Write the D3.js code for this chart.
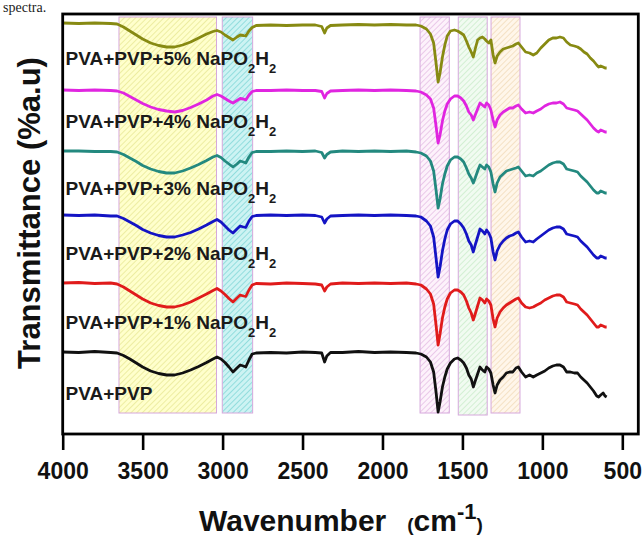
<!DOCTYPE html>
<html>
<head>
<meta charset="utf-8">
<script src="https://cdn.jsdelivr.net/npm/d3@7"></script>
<style>
  html, body { margin: 0; padding: 0; background: #fff; }
  #chart { width: 644px; height: 537px; }
  text { font-family: "Liberation Sans", Arial, sans-serif; }
</style>
</head>
<body>
<div id="chart"></div>
<script>
// wavenumber grid (cm-1), shared by all spectra
var wavenumbers = [
  4000, 3900, 3800, 3700, 3660, 3620, 3580, 3540, 3500, 3450, 3400, 3350, 3300, 3250, 3200, 3150, 3100, 3060, 3035,
  3010, 2985, 2960, 2935, 2910, 2890, 2870, 2855, 2835, 2815, 2790,
  2700, 2600, 2500, 2420, 2380, 2362, 2348, 2325, 2250, 2150, 2050, 1950, 1850, 1790,
  1760, 1725, 1700, 1680, 1665, 1652, 1640, 1625, 1610, 1595, 1575, 1550, 1530,
  1510, 1492, 1475, 1460, 1445, 1432, 1420, 1405, 1390, 1375, 1360, 1349, 1335, 1322, 1308, 1296, 1283, 1265, 1245, 1225, 1205, 1185, 1165, 1150,
  1130, 1105, 1080, 1057, 1035, 1010, 985, 960, 935, 912, 890, 868, 848, 825, 800, 780, 760, 740, 720, 700, 680, 660, 648, 635, 620, 608, 598
];

var seriesNames = ['PVA+PVP', '1%', '2%', '3%', '4%', '5%'];
// flat-level transmittance of each stacked spectrum (a.u.)
var baselines = [8.2, 15.1, 21.9, 28.3, 34.4, 41.1];

// absorption drop below the baseline
var dropPure = [
  0, 0.05, -0.05, 0.05, 0.1, 0.35, 0.7, 1.1, 1.5, 1.9, 2.15, 2.3, 2.3, 2.1, 1.8, 1.45, 1.05, 0.7, 0.5,
  0.7, 1.05, 1.5, 2.0, 1.6, 1.3, 1.4, 1.5, 0.8, 0.2, 0.1,
  0.05, 0.1, 0, 0.05, 0.1, 1.0, 0.4, 0.05, 0.05, -0.05, 0.05, 0, 0.05, 0.1,
  0.2, 0.5, 1.0, 2.0, 4.0, 6.0, 5.0, 3.5, 2.5, 1.7, 1.1, 0.7, 0.6,
  0.8, 1.1, 1.6, 2.3, 2.7, 3.5, 2.9, 2.2, 1.5, 1.8, 2.0, 1.5, 1.7, 2.1, 3.3, 4.1, 3.3, 2.8, 2.5, 2.1, 2.0, 2.0, 1.6, 1.5,
  2.0, 2.5, 2.3, 2.5, 2.3, 2.1, 1.9, 1.6, 1.4, 1.3, 1.3, 1.5, 2.0, 2.0, 2.1, 2.1, 2.5, 2.8, 3.1, 3.5, 3.9, 4.4, 4.5, 4.3, 4.1, 4.4, 4.5
];
var drop1 = [
  0, -0.05, 0.05, 0, 0.1, 0.4, 0.8, 1.2, 1.6, 2.0, 2.25, 2.4, 2.4, 2.2, 1.9, 1.5, 1.1, 0.75, 0.55,
  0.8, 1.15, 1.55, 1.9, 1.5, 1.2, 1.3, 1.35, 0.7, 0.2, 0.05,
  0.1, 0, 0.05, 0.1, 0.2, 0.8, 0.4, 0.1, 0, 0.05, 0, 0.05, 0, 0.1,
  0.2, 0.6, 1.1, 2.1, 4.2, 6.2, 5.1, 3.5, 2.4, 1.6, 1.0, 0.7, 0.7,
  0.9, 1.2, 1.8, 2.5, 3.0, 3.7, 3.1, 2.3, 1.5, 1.7, 2.0, 1.6, 1.8, 2.2, 3.6, 4.4, 3.5, 2.9, 2.5, 2.2, 2.0, 1.8, 1.6, 1.5,
  2.0, 2.4, 2.5, 2.4, 2.2, 2.0, 1.7, 1.5, 1.3, 1.2, 1.2, 1.4, 1.9, 2.0, 2.1, 2.2, 2.6, 2.9, 3.2, 3.6, 4.0, 4.4, 4.4, 4.2, 4.3, 4.4, 4.4
];
var drop2 = [
  0, 0.05, 0, 0.1, 0.1, 0.35, 0.7, 1.05, 1.45, 1.8, 2.05, 2.2, 2.2, 2.0, 1.75, 1.4, 1.0, 0.65, 0.45,
  0.7, 1.1, 1.5, 1.8, 1.4, 1.1, 1.2, 1.25, 0.6, 0.15, 0.05,
  0, 0.05, 0, 0.05, 0.2, 0.8, 0.4, 0.1, 0.05, 0, 0.05, 0, 0.05, 0.1,
  0.2, 0.6, 1.1, 2.2, 4.3, 6.2, 5.2, 3.6, 2.4, 1.5, 0.9, 0.6, 0.6,
  0.9, 1.3, 1.9, 2.6, 3.0, 3.7, 3.0, 2.2, 1.4, 1.6, 1.9, 1.5, 1.8, 2.3, 3.7, 4.5, 3.6, 3.0, 2.6, 2.3, 2.1, 2.0, 1.8, 1.7,
  2.2, 2.7, 2.6, 2.7, 2.4, 2.1, 1.8, 1.5, 1.3, 1.2, 1.2, 1.4, 1.9, 2.0, 2.1, 2.2, 2.6, 2.9, 3.2, 3.6, 4.0, 4.3, 4.3, 4.1, 4.2, 4.3, 4.3
];
var drop3 = [
  0, 0, 0.05, 0.05, 0.1, 0.35, 0.7, 1.05, 1.45, 1.8, 2.05, 2.2, 2.2, 2.0, 1.7, 1.35, 0.95, 0.6, 0.45,
  0.65, 1.0, 1.3, 1.6, 1.3, 1.0, 1.1, 1.2, 0.6, 0.15, 0.05,
  0.05, 0, 0.05, 0, 0.15, 0.7, 0.35, 0.1, 0, 0.05, 0, 0.05, 0, 0.1,
  0.2, 0.5, 1.0, 2.0, 3.9, 5.7, 4.8, 3.3, 2.3, 1.5, 0.9, 0.6, 0.6,
  0.8, 1.1, 1.7, 2.3, 2.7, 3.2, 2.7, 2.0, 1.4, 1.6, 1.8, 1.4, 1.6, 2.1, 3.3, 4.1, 3.2, 2.6, 2.3, 2.0, 1.9, 1.8, 1.7, 1.6,
  2.0, 2.5, 2.4, 2.5, 2.2, 2.0, 1.7, 1.4, 1.2, 1.1, 1.1, 1.3, 1.8, 1.9, 2.0, 2.1, 2.5, 2.8, 3.1, 3.5, 3.9, 4.2, 4.2, 4.0, 4.1, 4.2, 4.2
];
var drop4 = [
  0, 0.05, 0, 0.05, 0.1, 0.3, 0.65, 1.0, 1.35, 1.7, 1.95, 2.1, 2.2, 2.05, 1.75, 1.4, 1.0, 0.6, 0.45,
  0.6, 0.85, 1.1, 1.3, 1.05, 0.85, 0.9, 1.0, 0.5, 0.15, 0.05,
  0.05, 0, 0.05, 0.05, 0.15, 0.8, 0.35, 0.1, 0.05, 0, 0.05, 0, 0.05, 0.1,
  0.2, 0.5, 0.9, 1.8, 3.6, 5.3, 4.5, 3.1, 2.1, 1.4, 0.9, 0.6, 0.6,
  0.8, 1.1, 1.6, 2.2, 2.5, 3.0, 2.5, 1.9, 1.3, 1.5, 1.7, 1.3, 1.5, 2.0, 3.0, 3.7, 3.0, 2.5, 2.2, 2.0, 1.8, 1.8, 1.6, 1.5,
  1.9, 2.3, 2.2, 2.3, 2.1, 1.9, 1.6, 1.4, 1.3, 1.3, 1.2, 1.4, 1.8, 1.9, 2.0, 2.1, 2.4, 2.7, 3.0, 3.4, 3.8, 4.1, 4.2, 4.0, 4.1, 4.2, 4.2
];
var drop5 = [
  0, 0.05, 0, 0.05, 0.1, 0.4, 0.8, 1.2, 1.6, 2.0, 2.25, 2.4, 2.4, 2.2, 1.9, 1.5, 1.1, 0.85, 0.75,
  0.9, 1.2, 1.45, 1.7, 1.4, 1.2, 1.25, 1.3, 0.8, 0.45, 0.25,
  0.2, 0.25, 0.2, 0.2, 0.35, 1.0, 0.5, 0.25, 0.2, 0.15, 0.2, 0.15, 0.2, 0.2,
  0.3, 0.6, 1.1, 2.0, 4.0, 5.9, 5.0, 3.4, 2.2, 1.3, 0.8, 0.7, 0.8,
  1.0, 1.2, 1.8, 2.4, 2.9, 3.4, 2.6, 1.7, 1.5, 1.4, 1.6, 1.8, 2.0, 1.7, 3.2, 4.0, 3.3, 2.9, 2.6, 2.5, 2.4, 2.3, 2.1, 2.0,
  2.4, 2.9, 3.0, 3.2, 3.0, 2.5, 2.1, 1.7, 1.5, 1.5, 1.4, 1.5, 1.9, 2.2, 2.3, 2.4, 2.6, 2.9, 3.1, 3.5, 3.8, 4.2, 4.4, 4.3, 4.4, 4.5, 4.5
];
var drops = [dropPure, drop1, drop2, drop3, drop4, drop5];

// highlighted absorption bands [high, low] in cm-1
var bands = [[3648, 3038], [3002, 2812], [1765, 1582], [1526, 1345], [1321, 1140]];
var xTicks = [4000, 3500, 3000, 2500, 2000, 1500, 1000, 500];

(function () {
  var W = 644, H = 537;
  var margin = { top: 14, right: 5.7, bottom: 103, left: 62.7 };

  var colors = ['#111111', '#e01b1b', '#1414c4', '#23897f', '#e025e0', '#878a12'];
  var bandFill = ['#ffffcc', '#cdf3f3', '#fdf2fb', '#f1fbf1', '#fff6ea'];
  var bandLine = ['#e6e690', '#78d4d4', '#e2b8e2', '#c6ebc6', '#f0d8b4'];
  var labelDy = [48, 46, 45, 44, 38, 42]; // label baseline below each flat level

  var svg = d3.select('#chart').append('svg')
    .attr('width', W).attr('height', H);

  var x = d3.scaleLinear().domain([4000, 400]).range([margin.left, W - margin.right]);
  var y = d3.scaleLinear().domain([0, 42]).range([H - margin.bottom, margin.top]);

  // caption fragment at the top of the page
  svg.append('text')
    .attr('x', 3).attr('y', 12)
    .style('font-family', '"Liberation Serif", "Times New Roman", serif')
    .style('font-size', '14px')
    .attr('fill', '#222')
    .text('spectra.');

  // hatch patterns
  var defs = svg.append('defs');
  bands.forEach(function (b, i) {
    var p = defs.append('pattern')
      .attr('id', 'hatch' + i)
      .attr('patternUnits', 'userSpaceOnUse')
      .attr('width', 4).attr('height', 4)
      .attr('patternTransform', 'rotate(45)');
    p.append('rect').attr('width', 4).attr('height', 4).attr('fill', bandFill[i]);
    p.append('line').attr('x1', 0).attr('y1', 0).attr('x2', 0).attr('y2', 4)
      .attr('stroke', bandLine[i]).attr('stroke-width', 1.4);
  });

  var bandTop = y(41.7), bandBottom = y(2.1);
  svg.append('g').selectAll('rect')
    .data(bands)
    .enter().append('rect')
    .attr('x', function (d) { return x(d[0]); })
    .attr('width', function (d) { return x(d[1]) - x(d[0]); })
    .attr('y', bandTop)
    .attr('height', function (d, i) { return bandBottom - bandTop + (i === 3 ? 2 : 0); })
    .attr('fill', function (d, i) { return 'url(#hatch' + i + ')'; })
    .attr('stroke', '#d6a8dc')
    .attr('stroke-width', 1);

  // spectra
  var line = d3.line()
    .x(function (d) { return x(d[0]); })
    .y(function (d) { return y(d[1]); });

  seriesNames.forEach(function (name, i) {
    var pts = wavenumbers.map(function (w, j) { return [w, baselines[i] - drops[i][j]]; });
    svg.append('path')
      .datum(pts)
      .attr('fill', 'none')
      .attr('stroke', colors[i])
      .attr('stroke-width', 2.8)
      .attr('stroke-linejoin', 'round')
      .attr('d', line);
  });

  // sample labels
  seriesNames.forEach(function (name, i) {
    var t = svg.append('text')
      .attr('x', x(3982))
      .attr('y', y(baselines[i]) + labelDy[i])
      .style('font-size', '19px')
      .style('font-weight', 'bold')
      .attr('fill', '#1a1a1a');
    if (i === 0) { t.text('PVA+PVP'); return; }
    t.append('tspan').text('PVA+PVP+' + name + ' NaPO');
    t.append('tspan').attr('dy', 8).style('font-size', '13px').text('2');
    t.append('tspan').attr('dy', -8).text('H');
    t.append('tspan').attr('dy', 8).style('font-size', '13px').text('2');
  });

  // frame
  svg.append('rect')
    .attr('x', margin.left).attr('y', margin.top)
    .attr('width', W - margin.left - margin.right)
    .attr('height', H - margin.top - margin.bottom)
    .attr('fill', 'none')
    .attr('stroke', '#000')
    .attr('stroke-width', 2.8);

  var xAxis = d3.axisBottom(x).tickValues(xTicks).tickSize(16).tickPadding(13)
    .tickFormat(d3.format('d'));
  var gx = svg.append('g')
    .attr('transform', 'translate(0,' + (H - margin.bottom) + ')')
    .call(xAxis);
  gx.select('.domain').remove();
  gx.selectAll('line').attr('stroke', '#000').attr('stroke-width', 2.6);
  gx.selectAll('text')
    .attr('fill', '#111')
    .style('font-family', '"Liberation Sans", Arial, sans-serif')
    .style('font-size', '23px')
    .style('font-weight', 'bold');

  // axis titles
  var xt = svg.append('text')
    .attr('x', 199).attr('y', 531)
    .style('font-weight', 'bold')
    .style('font-size', '30px')
    .attr('fill', '#111');
  xt.append('tspan').text('Wavenumber');
  xt.append('tspan').attr('dx', 21).style('font-size', '19px').text('(');
  xt.append('tspan').text('cm');
  xt.append('tspan').attr('dy', -12).style('font-size', '22px').text('-1');
  xt.append('tspan').attr('dy', 12).style('font-size', '19px').text(')');

  svg.append('text')
    .attr('transform', 'translate(40,213) rotate(-90)')
    .attr('text-anchor', 'middle')
    .style('font-weight', 'bold')
    .style('font-size', '31px')
    .attr('fill', '#111')
    .text('Transmittance (%a.u)');
})();
</script>
</body>
</html>
